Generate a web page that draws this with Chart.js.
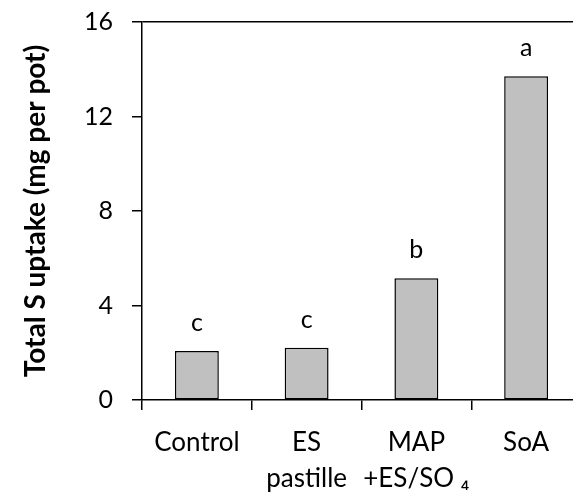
<!DOCTYPE html>
<html>
<head>
<meta charset="utf-8">
<script src="https://cdn.jsdelivr.net/npm/chart.js@4/dist/chart.umd.min.js"></script>
<style>
  html, body { margin: 0; padding: 0; background: #fff; overflow: hidden; }
  #wrap { width: 600px; height: 492px; }
</style>
</head>
<body>
<div id="wrap"><canvas id="barGraph1"></canvas></div>
<script>
// data
var treatments = ['Control', ['ES', 'pastille'], ['MAP', '+ES/SO \u2084'], 'SoA'];
var sUptake = [2.07, 2.21, 5.15, 13.7];
var letters = ['c', 'c', 'b', 'a'];
var yTicks = [0, 4, 8, 12, 16];

var fontName = 'Lato, "Open Sans", sans-serif';
var fSize = 25;

// small letters above each bar
var letterPlugin = {
	id: 'letters',
	afterDatasetsDraw: function(chart) {
		var ctx = chart.ctx;
		var meta = chart.getDatasetMeta(0);
		ctx.save();
		ctx.font = fSize + 'px ' + fontName;
		ctx.fillStyle = '#000';
		ctx.textAlign = 'center';
		ctx.textBaseline = 'middle';
		meta.data.forEach(function(bar, i) {
			ctx.fillText(letters[i], bar.x, bar.y - 28);
		});
		ctx.restore();
	}
};

var chartdata = {
	labels: treatments,
	datasets: [{
		label: 'Total S uptake',
		backgroundColor: '#c0c0c0',
		borderColor: '#000',
		borderWidth: 1.5,
		borderSkipped: false,
		barPercentage: 0.4,
		categoryPercentage: 1,
		data: sUptake
	}]
};

var ctx = document.getElementById('barGraph1');

var barGraph = new Chart(ctx, {
	type: 'bar',
	data: chartdata,
	plugins: [letterPlugin],
	options: {
		responsive: true,
		maintainAspectRatio: false,
		animation: false,
		layout: { padding: { top: 22, right: 19, left: 0, bottom: 0 } },
		plugins: {
			legend: { display: false },
			tooltip: { enabled: false }
		},
		scales: {
			x: {
				offset: true,
				grid: {
					offset: true,
					color: 'transparent',
					tickColor: '#000',
					tickLength: 10,
					lineWidth: 1.5
				},
				border: { color: '#000', width: 1.5 },
				ticks: {
					color: '#000',
					padding: 14,
					maxRotation: 0,
					autoSkip: false,
					font: { family: fontName, size: 26, lineHeight: 1.4 }
				},
				afterFit: function(s) { s.height = 92; s.paddingLeft = 0; s.paddingRight = 0; }
			},
			y: {
				min: 0,
				max: 16,
				afterBuildTicks: function(s) {
					s.ticks = yTicks.map(function(v) { return { value: v }; });
				},
				grid: {
					color: function(c) { return c.tick && c.tick.value === 16 ? '#000' : 'transparent'; },
					tickColor: '#000',
					tickLength: 10,
					lineWidth: 1.5
				},
				border: { color: '#000', width: 1.5 },
				ticks: {
					color: '#000',
					padding: 19,
					font: { family: fontName, size: fSize }
				},
				title: {
					display: true,
					text: 'Total S uptake (mg per pot)',
					color: '#000',
					padding: { top: 19, bottom: 0 },
					font: { family: fontName, size: 28, weight: 'bold' }
				},
				afterFit: function(s) { s.width = 142; s.paddingTop = 0; s.paddingBottom = 0; }
			}
		}
	}
});
</script>
</body>
</html>
